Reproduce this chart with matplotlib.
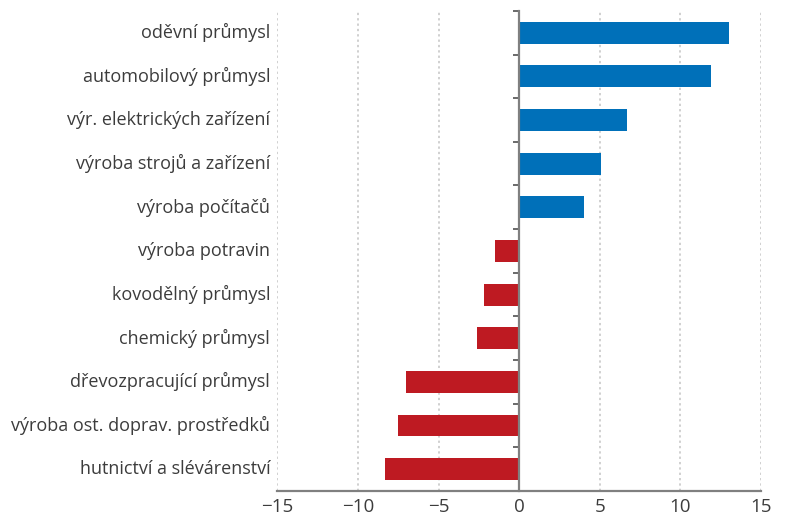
import matplotlib
matplotlib.use("Agg")
import matplotlib.pyplot as plt
import matplotlib.transforms as mtransforms
import numpy as np

plt.rcParams["font.family"] = ["Open Sans", "DejaVu Sans"]

# data: change by industry (top to bottom)
industries = [
    "oděvní průmysl",
    "automobilový průmysl",
    "výr. elektrických zařízení",
    "výroba strojů a zařízení",
    "výroba počítačů",
    "výroba potravin",
    "kovodělný průmysl",
    "chemický průmysl",
    "dřevozpracující průmysl",
    "výroba ost. doprav. prostředků",
    "hutnictví a slévárenství",
]
values = [13.0, 11.9, 6.7, 5.1, 4.0, -1.5, -2.2, -2.6, -7.0, -7.5, -8.3]
x_ticks = [-15, -10, -5, 0, 5, 10, 15]
x_ticklabels = ["\u221215", "\u221210", "\u22125", "0", "5", "10", "15"]

BLUE = "#0070b9"
RED = "#be1a22"
TEXT = "#3c3c3c"
SPINE = "#808080"

fig = plt.figure(figsize=(7.87, 5.18), dpi=100)
ax = fig.add_axes([0.3526, 0.052, 0.6144, 0.927])

pos = np.arange(len(industries))
colours = [BLUE if v > 0 else RED for v in values]
ax.barh(pos, values, height=0.5, color=colours, zorder=3)

ax.set_xlim(-15, 15)
ax.set_ylim(len(industries) - 0.5, -0.5)

# dotted grid
ax.set_xticks(x_ticks)
ax.set_xticklabels(x_ticklabels, fontsize=13.5, color=TEXT)
ax.xaxis.grid(True, linestyle=(0, (1.5, 2)), color="#c4c4c4", linewidth=1.1, zorder=0)
ax.tick_params(axis="x", length=0, pad=5)

# zero line as left spine with boundary ticks
for s in ["top", "right"]:
    ax.spines[s].set_visible(False)
ax.spines["left"].set_position(("data", 0))
ax.spines["left"].set_color(SPINE)
ax.spines["left"].set_linewidth(1.6)
ax.spines["left"].set_zorder(4)
ax.spines["bottom"].set_color(SPINE)
ax.spines["bottom"].set_linewidth(1.6)

ax.set_yticks(np.arange(len(industries) + 1) - 0.5)
ax.set_yticklabels([])
ax.tick_params(axis="y", length=4, width=1.2, color="#505050", direction="out")

# category labels on the left
trans = mtransforms.blended_transform_factory(ax.transAxes, ax.transData)
for p, name in zip(pos, industries):
    ax.text(-0.015, p, name, transform=trans, ha="right", va="center",
            fontsize=13, color=TEXT)

plt.savefig("out.png", dpi=100)
plt.close()
